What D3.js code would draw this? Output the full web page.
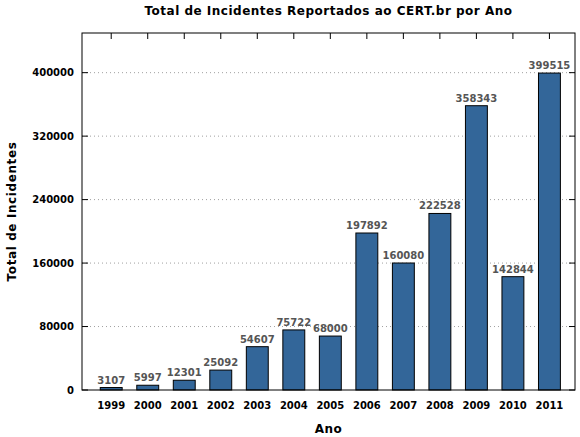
<!DOCTYPE html>
<html>
<head>
<meta charset="utf-8">
<script src="https://cdn.jsdelivr.net/npm/d3@7"></script>
<style>
  body { margin: 0; background: #fff; }
  svg { display: block; font-family: "DejaVu Sans", sans-serif; }
</style>
</head>
<body>
<svg id="chart" width="580" height="437"></svg>
<script>
// data
const anos = ["1999", "2000", "2001", "2002", "2003", "2004", "2005", "2006", "2007", "2008", "2009", "2010", "2011"];
const incidentes = [3107, 5997, 12301, 25092, 54607, 75722, 68000, 197892, 160080, 222528, 358343, 142844, 399515];
const yTicks = [0, 80000, 160000, 240000, 320000, 400000];

const W = 580, H = 437;
const m = { left: 82, right: 5, top: 33, bottom: 47 };
const iw = W - m.left - m.right, ih = H - m.top - m.bottom;

const svg = d3.select("#chart");
const g = svg.append("g").attr("transform", `translate(${m.left},${m.top})`);

// gnuplot-like x range around the bar indices
const x = d3.scaleLinear().domain([-0.8, anos.length - 0.3]).range([0, iw]);
const y = d3.scaleLinear().domain([0, 450000]).range([ih, 0]);
const barW = (x(1) - x(0)) * 0.6;

// grid
g.selectAll(".grid").data(yTicks.filter(d => d > 0)).enter().append("line")
  .attr("x1", 0).attr("x2", iw)
  .attr("y1", d => y(d)).attr("y2", d => y(d))
  .attr("stroke", "#a0a0a0").attr("stroke-width", 1)
  .attr("stroke-dasharray", "1,3");

// bars
g.selectAll(".bar").data(incidentes).enter().append("rect")
  .attr("x", (d, i) => x(i) - barW / 2)
  .attr("y", d => y(d))
  .attr("width", barW)
  .attr("height", d => ih - y(d))
  .attr("fill", "#336699")
  .attr("stroke", "#000").attr("stroke-width", 1);

// value labels
g.selectAll(".lbl").data(incidentes).enter().append("text")
  .attr("x", (d, i) => x(i))
  .attr("y", d => y(d) - 4)
  .attr("text-anchor", "middle")
  .attr("font-size", 10).attr("font-weight", "bold")
  .attr("fill", "#555")
  .text(d => d);

// inward ticks, mirrored
const tl = 6;
g.selectAll(".ytl").data(yTicks).enter().append("line")
  .attr("x1", 0).attr("x2", tl).attr("y1", d => y(d)).attr("y2", d => y(d))
  .attr("stroke", "#000");
g.selectAll(".ytr").data(yTicks).enter().append("line")
  .attr("x1", iw - tl).attr("x2", iw).attr("y1", d => y(d)).attr("y2", d => y(d))
  .attr("stroke", "#000");
g.selectAll(".xtt").data(anos).enter().append("line")
  .attr("x1", (d, i) => x(i)).attr("x2", (d, i) => x(i))
  .attr("y1", 0).attr("y2", tl)
  .attr("stroke", "#000");

// frame
g.append("rect").attr("width", iw).attr("height", ih)
  .attr("fill", "none").attr("stroke", "#000").attr("stroke-width", 1);

// tick labels
g.selectAll(".ylab").data(yTicks).enter().append("text")
  .attr("x", -8).attr("y", d => y(d)).attr("dy", "0.35em")
  .attr("text-anchor", "end")
  .attr("font-size", 10).attr("font-weight", "bold")
  .text(d => d);
g.selectAll(".xlab").data(anos).enter().append("text")
  .attr("x", (d, i) => x(i)).attr("y", ih + 19)
  .attr("text-anchor", "middle")
  .attr("font-size", 10).attr("font-weight", "bold")
  .text(d => d);

// titles
svg.append("text")
  .attr("x", m.left + iw / 2).attr("y", 15)
  .attr("text-anchor", "middle")
  .attr("font-size", 12).attr("font-weight", "bold")
  .attr("letter-spacing", 0.5)
  .text("Total de Incidentes Reportados ao CERT.br por Ano");
svg.append("text")
  .attr("x", m.left + iw / 2).attr("y", 433)
  .attr("text-anchor", "middle")
  .attr("font-size", 12).attr("font-weight", "bold")
  .attr("letter-spacing", 0.5)
  .text("Ano");
svg.append("text")
  .attr("transform", `translate(16,${m.top + ih / 2}) rotate(-90)`)
  .attr("text-anchor", "middle")
  .attr("font-size", 12).attr("font-weight", "bold")
  .attr("letter-spacing", 0.6)
  .text("Total de Incidentes");
</script>
</body>
</html>
